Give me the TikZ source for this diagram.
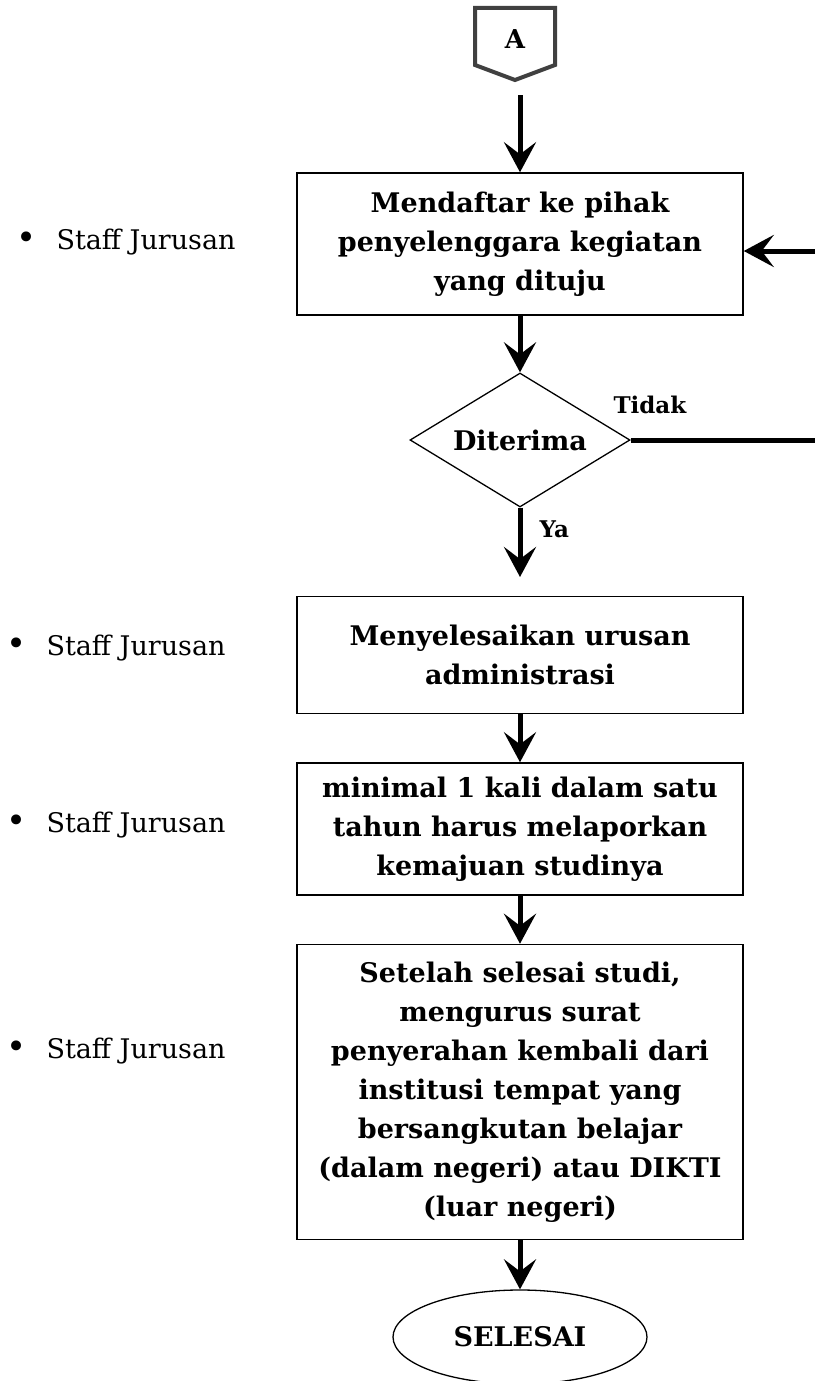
\documentclass[tikz,border=0pt]{standalone}
\usepackage{fontspec}
\setmainfont{DejaVu Serif}
\usetikzlibrary{shapes.geometric,arrows.meta}
\definecolor{connector}{RGB}{64,64,64}
\begin{document}
\begin{tikzpicture}[x=1pt,y=-1pt,
                box/.style={draw=black,line width=1.5pt,minimum width=446pt,align=center,
                    font=\bfseries\fontsize{27}{39}\selectfont},
                arr/.style={line width=5pt,-{Stealth[length=30pt,width=32pt,inset=12pt]}},
                staff/.style={anchor=base west,font=\fontsize{27}{30}\selectfont},
                tag/.style={anchor=base west,font=\bfseries\fontsize{23}{26}\selectfont}]
                \useasboundingbox (0,0) rectangle (814,1381);

                \draw[connector,line width=4pt] (475,8) -- (555,8) -- (555,65) -- (515,80) -- (475,65) -- cycle;
                \node[font=\bfseries\fontsize{26}{30}\selectfont] (A) at (515,39) {A};
                \coordinate (Aout) at (520,95);

                \node[box,minimum height=142pt] (daftar) at (520,244) {Mendaftar ke pihak\\penyelenggara kegiatan\\yang dituju};
                \node[shape=diamond,draw=black,line width=1.3pt,minimum width=220pt,minimum height=134pt,inner sep=0pt,aspect=1.64,
                    font=\bfseries\fontsize{27}{30}\selectfont] (terima) at (520,440) {Diterima};
                \coordinate (Yaend) at (520,577);
                \coordinate (loop) at (840,440);
                \node[box,minimum height=117pt] (admin) at (520,655) {Menyelesaikan urusan\\administrasi};
                \node[box,minimum height=132pt] (lapor) at (520,829) {minimal 1 kali dalam satu\\tahun harus melaporkan\\kemajuan studinya};
                \node[box,minimum height=295pt] (kembali) at (520,1092) {Setelah selesai studi,\\mengurus surat\\penyerahan kembali dari\\institusi tempat yang\\bersangkutan belajar\\(dalam negeri) atau DIKTI\\(luar negeri)};
                \node[shape=ellipse,draw=black,line width=1.3pt,minimum width=254pt,minimum height=94pt,
                    font=\bfseries\fontsize{27}{30}\selectfont] (selesai) at (520,1337) {SELESAI};

                \node[tag] (tidak) at (610,413) {Tidak};
                \node[tag] (ya) at (536,537) {Ya};

                \node[staff] (staff1) at (13,249) {\makebox[40pt][l]{\fontsize{34}{30}\selectfont•}Staff Jurusan};
                \node[staff] (staff2) at (3,655) {\makebox[40pt][l]{\fontsize{34}{30}\selectfont•}Staff Jurusan};
                \node[staff] (staff3) at (3,832) {\makebox[40pt][l]{\fontsize{34}{30}\selectfont•}Staff Jurusan};
                \node[staff] (staff4) at (3,1058) {\makebox[40pt][l]{\fontsize{34}{30}\selectfont•}Staff Jurusan};

                \path [arr] (Aout) edge (daftar.north);
                \path [arr] (daftar.south) edge (terima.north);
                \path [arr] (terima.south) edge (Yaend);
                \path [arr] (admin.south) edge (lapor.north);
                \path [arr] (lapor.south) edge (kembali.north);
                \path [arr] (kembali.south) edge (selesai.north);
                \draw [arr] (terima.east) -- (loop) |- ([yshift=-7pt]daftar.east);
            \end{tikzpicture}
\end{document}
